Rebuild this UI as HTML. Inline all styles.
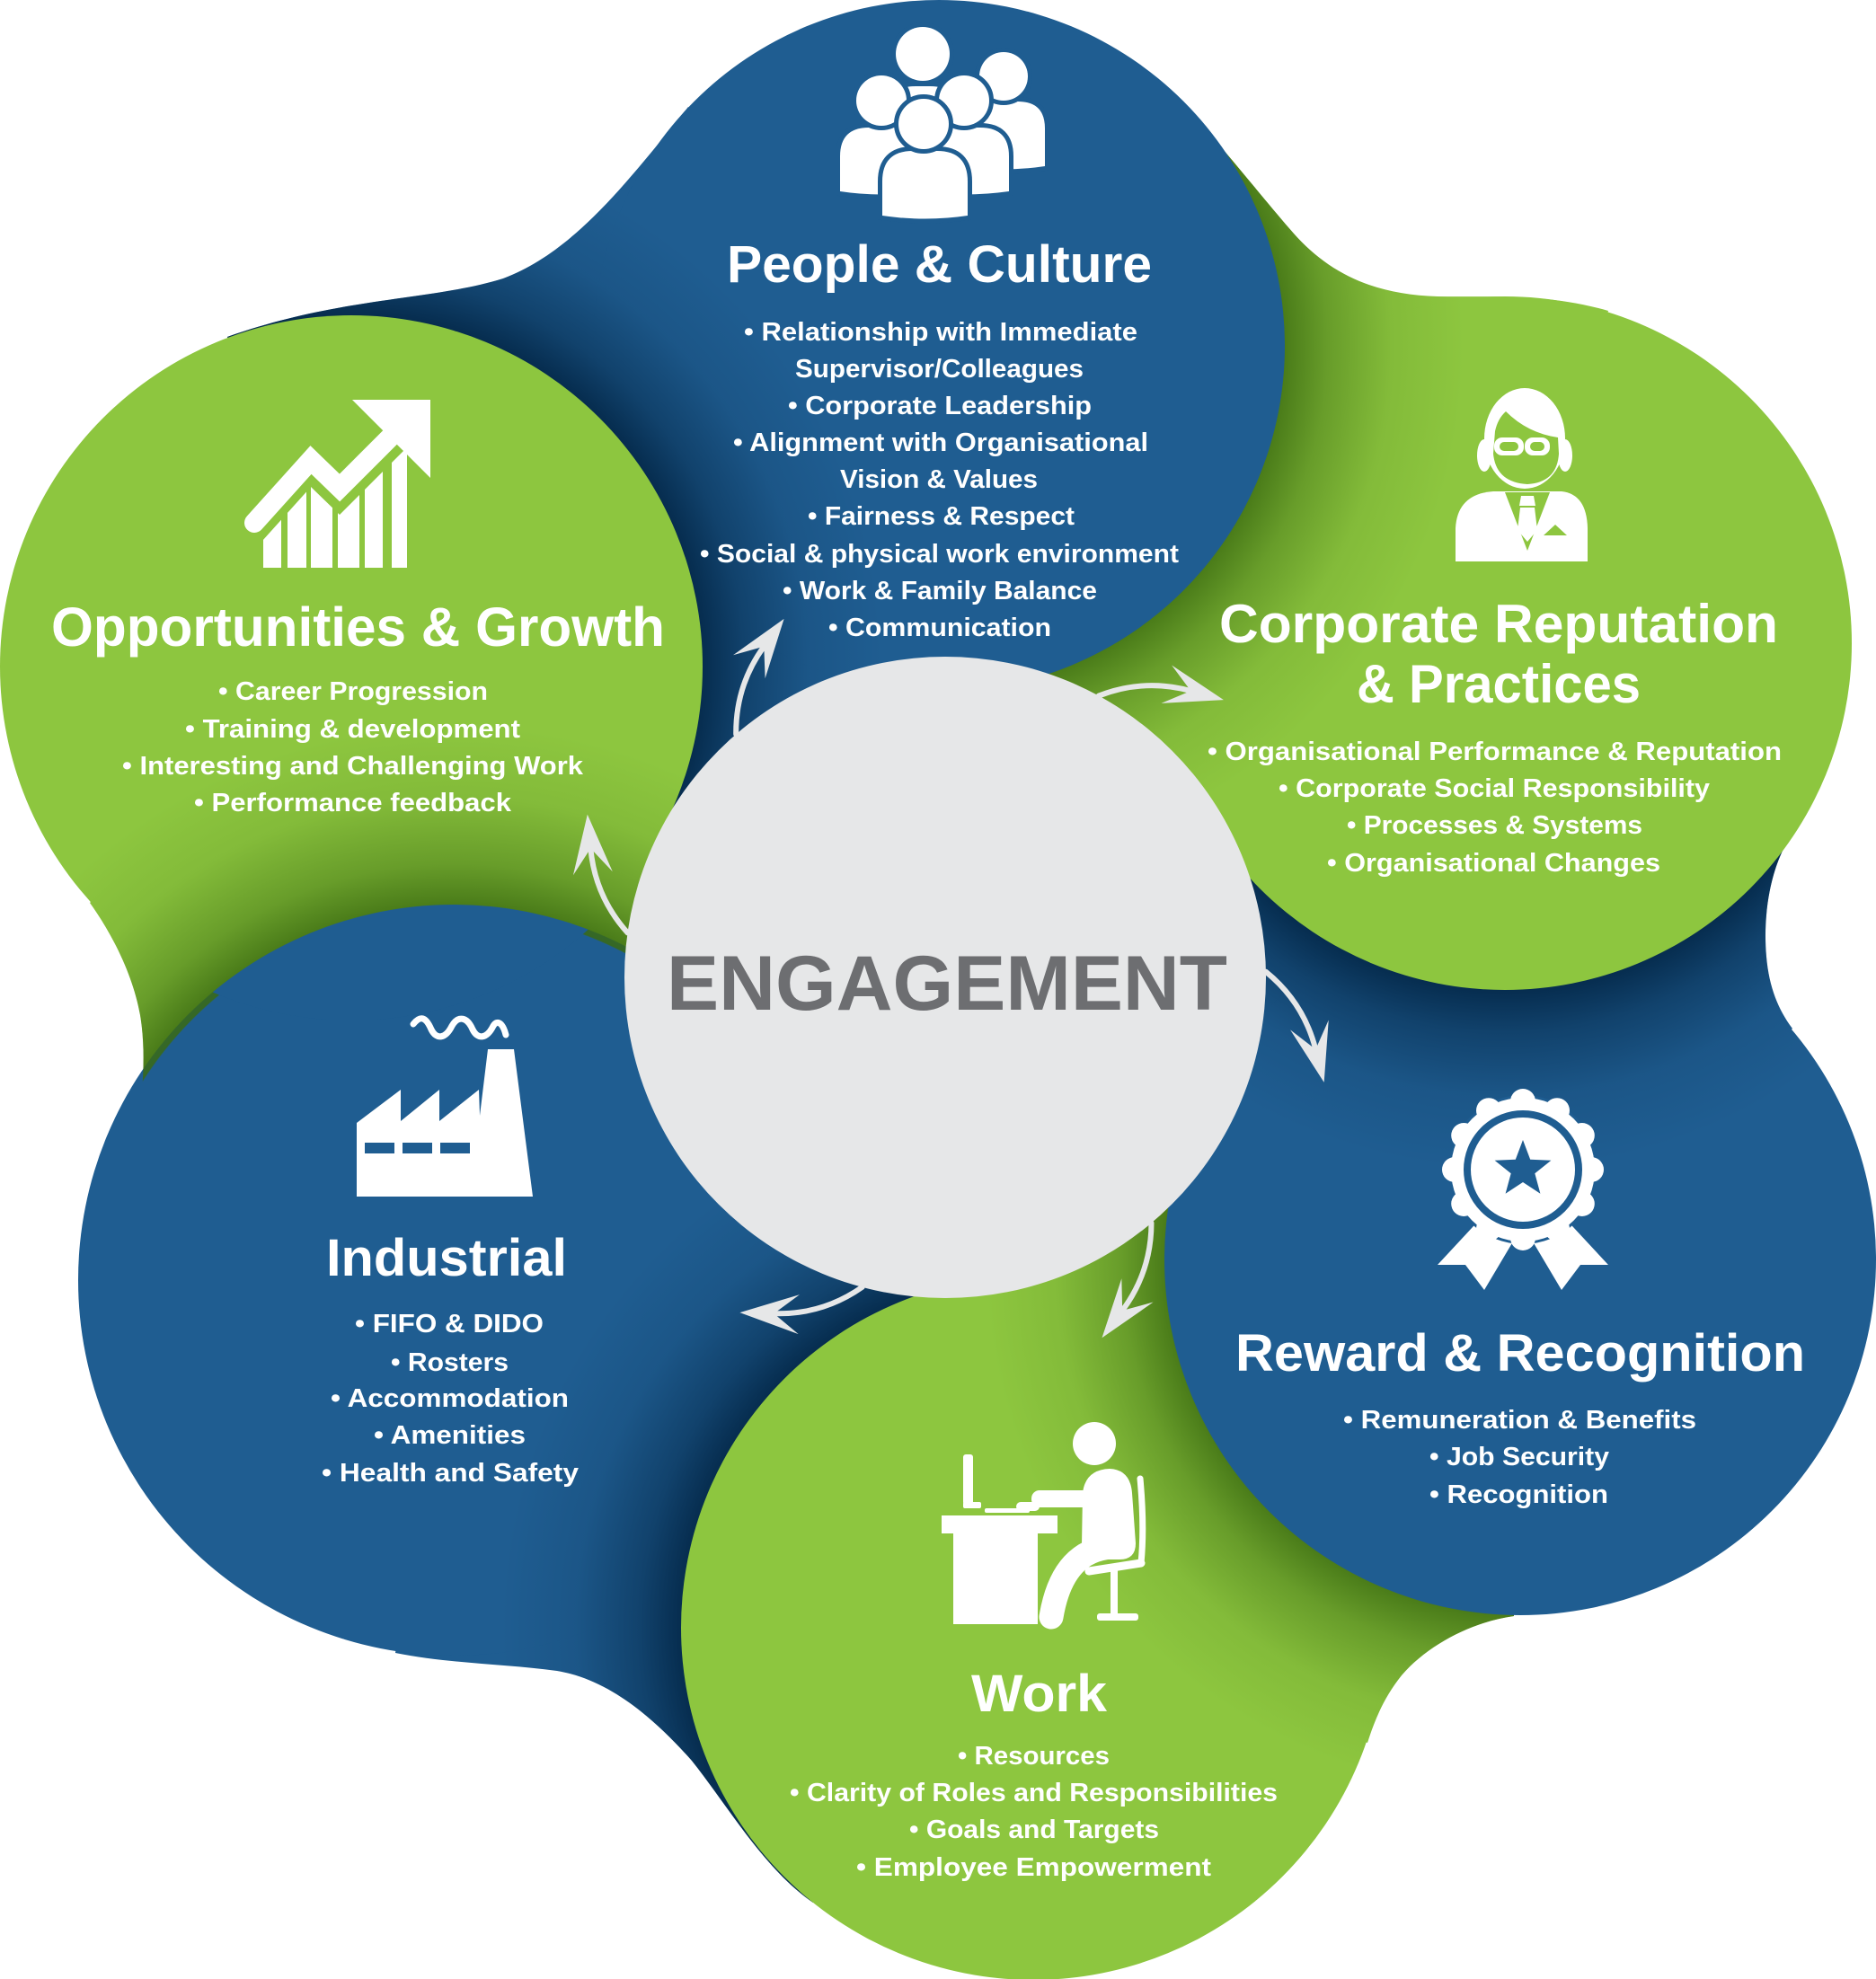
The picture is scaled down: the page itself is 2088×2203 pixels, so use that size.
<!DOCTYPE html>
<html>
<head>
<meta charset="utf-8">
<style>
html,body{margin:0;padding:0;background:#ffffff;}
svg{display:block;}
text{font-family:"Liberation Sans",Arial,sans-serif;font-weight:bold;fill:#ffffff;}
.t{font-size:58px;}
.b{font-size:29px;}
</style>
</head>
<body>
<svg width="2088" height="2203" viewBox="0 0 2088 2203" xmlns="http://www.w3.org/2000/svg">
<defs>
  <radialGradient id="shW" gradientUnits="userSpaceOnUse" cx="1150" cy="1812" r="592">
    <stop offset="0" stop-color="#00213f" stop-opacity="0"/>
    <stop offset="0.650" stop-color="#00213f" stop-opacity="0"/>
    <stop offset="0.652" stop-color="#00213f" stop-opacity="0.85"/>
    <stop offset="0.74" stop-color="#00213f" stop-opacity="0.45"/>
    <stop offset="0.86" stop-color="#00213f" stop-opacity="0.12"/>
    <stop offset="1" stop-color="#00213f" stop-opacity="0"/>
  </radialGradient>
  <radialGradient id="shR" gradientUnits="userSpaceOnUse" cx="1692" cy="1402" r="596">
    <stop offset="0" stop-color="#3a6a10" stop-opacity="0"/>
    <stop offset="0.652" stop-color="#3a6a10" stop-opacity="0"/>
    <stop offset="0.654" stop-color="#3a6a10" stop-opacity="0.85"/>
    <stop offset="0.745" stop-color="#3a6a10" stop-opacity="0.45"/>
    <stop offset="0.865" stop-color="#3a6a10" stop-opacity="0.12"/>
    <stop offset="1" stop-color="#3a6a10" stop-opacity="0"/>
  </radialGradient>
  <radialGradient id="shCr" gradientUnits="userSpaceOnUse" cx="1675" cy="716" r="586">
    <stop offset="0" stop-color="#00213f" stop-opacity="0"/>
    <stop offset="0.646" stop-color="#00213f" stop-opacity="0"/>
    <stop offset="0.648" stop-color="#00213f" stop-opacity="0.85"/>
    <stop offset="0.74" stop-color="#00213f" stop-opacity="0.45"/>
    <stop offset="0.86" stop-color="#00213f" stop-opacity="0.12"/>
    <stop offset="1" stop-color="#00213f" stop-opacity="0"/>
  </radialGradient>
  <radialGradient id="shP" gradientUnits="userSpaceOnUse" cx="1045" cy="385" r="585">
    <stop offset="0" stop-color="#3a6a10" stop-opacity="0"/>
    <stop offset="0.646" stop-color="#3a6a10" stop-opacity="0"/>
    <stop offset="0.648" stop-color="#3a6a10" stop-opacity="0.85"/>
    <stop offset="0.74" stop-color="#3a6a10" stop-opacity="0.45"/>
    <stop offset="0.86" stop-color="#3a6a10" stop-opacity="0.12"/>
    <stop offset="1" stop-color="#3a6a10" stop-opacity="0"/>
  </radialGradient>
  <radialGradient id="shO" gradientUnits="userSpaceOnUse" cx="391" cy="742" r="591">
    <stop offset="0" stop-color="#00213f" stop-opacity="0"/>
    <stop offset="0.650" stop-color="#00213f" stop-opacity="0"/>
    <stop offset="0.652" stop-color="#00213f" stop-opacity="0.85"/>
    <stop offset="0.74" stop-color="#00213f" stop-opacity="0.45"/>
    <stop offset="0.86" stop-color="#00213f" stop-opacity="0.12"/>
    <stop offset="1" stop-color="#00213f" stop-opacity="0"/>
  </radialGradient>
  <radialGradient id="shI" gradientUnits="userSpaceOnUse" cx="505" cy="1425" r="618">
    <stop offset="0" stop-color="#3a6a10" stop-opacity="0"/>
    <stop offset="0.664" stop-color="#3a6a10" stop-opacity="0"/>
    <stop offset="0.666" stop-color="#3a6a10" stop-opacity="0.85"/>
    <stop offset="0.75" stop-color="#3a6a10" stop-opacity="0.45"/>
    <stop offset="0.87" stop-color="#3a6a10" stop-opacity="0.12"/>
    <stop offset="1" stop-color="#3a6a10" stop-opacity="0"/>
  </radialGradient>

  <clipPath id="cI">
    <circle cx="505" cy="1425" r="418"/>
    <path d="M 440,1840 C 500,1852 560,1852 620,1860 C 680,1870 730,1915 770,1960 C 810,2010 850,2080 905,2118 L 1150,1812 L 1052,1088 L 505,1425 Z"/>
  </clipPath>
  <clipPath id="cW">
    <circle cx="1150" cy="1812" r="392"/>
    <path d="M 1685,1799 C 1640,1805 1590,1830 1560,1865 C 1540,1890 1530,1915 1522,1940 L 1150,1812 L 1052,1088 L 1692,1402 Z"/>
  </clipPath>
  <clipPath id="cR">
    <circle cx="1692" cy="1402" r="396"/>
    <path d="M 1985,945 C 1970,975 1962,1020 1966,1065 C 1969,1100 1980,1125 1995,1145 L 1692,1402 L 1052,1088 L 1675,716 Z"/>
  </clipPath>
  <clipPath id="cCr">
    <circle cx="1675" cy="716" r="386"/>
    <path d="M 1292,90 C 1345,143 1398,212 1440,260 C 1480,305 1530,328 1600,330 C 1660,331 1720,326 1790,346 L 1675,716 L 1052,1088 L 1045,385 Z"/>
  </clipPath>
  <clipPath id="cP">
    <circle cx="1045" cy="385" r="385"/>
    <path d="M 766,119 C 700,200 640,280 560,310 C 480,335 380,330 253,375 L 391,742 L 1052,1088 L 1045,385 Z"/>
  </clipPath>
  <clipPath id="cO">
    <circle cx="391" cy="742" r="391"/>
    <path d="M 100,1005 C 125,1040 148,1085 156,1130 C 161,1160 160,1190 158,1215 L 505,1425 L 1052,1088 L 391,742 Z"/>
  </clipPath>
  <clipPath id="cOc">
    <circle cx="391" cy="742" r="394"/>
  </clipPath>
  <clipPath id="barclip">
    <polygon points="255,640 255,630 283,612 346,542 378,573 472,479 472,640"/>
  </clipPath>

  <g id="arr">
    <path d="M 819.2,817.4 Q 818.6,763.2 850.3,719.6" fill="none" stroke="#e6e7e8" stroke-width="6" stroke-linecap="round"/>
    <path d="M 872.6,688.9 L 851.6,755.2 L 850.3,719.6 L 816.0,729.3 Z" fill="#e6e7e8"/>
  </g>
</defs>

<rect x="0" y="0" width="2088" height="2203" fill="#ffffff"/>

<!-- tails -->
<path d="M 766,119 C 700,200 640,280 560,310 C 480,335 380,330 253,375 L 391,742 L 1052,1088 L 1045,385 Z" fill="#1f5d91"/>
<path d="M 1292,90 C 1345,143 1398,212 1440,260 C 1480,305 1530,328 1600,330 C 1660,331 1720,326 1790,346 L 1675,716 L 1052,1088 L 1045,385 Z" fill="#8dc63f"/>
<path d="M 1985,945 C 1970,975 1962,1020 1966,1065 C 1969,1100 1980,1125 1995,1145 L 1692,1402 L 1052,1088 L 1675,716 Z" fill="#1f5d91"/>
<path d="M 1685,1799 C 1640,1805 1590,1830 1560,1865 C 1540,1890 1530,1915 1522,1940 L 1150,1812 L 1052,1088 L 1692,1402 Z" fill="#8dc63f"/>
<path d="M 440,1840 C 500,1852 560,1852 620,1860 C 680,1870 730,1915 770,1960 C 810,2010 850,2080 905,2118 L 1150,1812 L 1052,1088 L 505,1425 Z" fill="#1f5d91"/>
<path d="M 100,1005 C 125,1040 148,1085 156,1130 C 161,1160 160,1190 158,1215 L 505,1425 L 1052,1088 L 391,742 Z" fill="#8dc63f"/>

<!-- circles with shadows -->
<circle cx="505" cy="1425" r="418" fill="#1f5d91"/>
<rect x="0" y="0" width="2088" height="2203" fill="url(#shW)" clip-path="url(#cI)"/>
<circle cx="1150" cy="1812" r="392" fill="#8dc63f"/>
<rect x="0" y="0" width="2088" height="2203" fill="url(#shR)" clip-path="url(#cW)"/>
<circle cx="1692" cy="1402" r="396" fill="#1f5d91"/>
<rect x="0" y="0" width="2088" height="2203" fill="url(#shCr)" clip-path="url(#cR)"/>
<circle cx="1675" cy="716" r="386" fill="#8dc63f"/>
<rect x="0" y="0" width="2088" height="2203" fill="url(#shP)" clip-path="url(#cCr)"/>
<circle cx="1045" cy="385" r="385" fill="#1f5d91"/>
<rect x="0" y="0" width="2088" height="2203" fill="url(#shO)" clip-path="url(#cP)"/>
<circle cx="391" cy="742" r="391" fill="#8dc63f"/>
<rect x="0" y="0" width="2088" height="2203" fill="url(#shI)" clip-path="url(#cO)"/>
<circle cx="505" cy="1425" r="418" fill="#1f5d91" clip-path="url(#cOc)"/>

<!-- engagement -->
<circle cx="1052" cy="1088" r="357" fill="#e6e7e8"/>
<text x="742" y="1124" font-size="86" textLength="624" lengthAdjust="spacingAndGlyphs" style="fill:#6d6e71">ENGAGEMENT</text>

<!-- arrows -->
<use href="#arr"/>
<use href="#arr" transform="rotate(69.3 1052 1088)"/>
<use href="#arr" transform="rotate(129.7 1052 1088)"/>
<use href="#arr" transform="rotate(180.7 1052 1088)"/>
<use href="#arr" transform="rotate(235.7 1052 1088)"/>
<use href="#arr" transform="rotate(-41.3 1052 1088)"/>

<!-- People group icon -->
<g fill="#ffffff" stroke="#1f5d91" stroke-width="10" paint-order="stroke">
  <path d="M 985,200 L 985,130 Q 985,96 1019,96 L 1035,96 Q 1069,96 1069,130 L 1069,200 Z"/>
  <circle cx="1027" cy="60" r="30"/>
  <path d="M 1071,185 L 1071,143 Q 1071,113 1101,113 L 1133,113 Q 1163,113 1163,143 L 1163,185 Q 1117,192 1071,185 Z"/>
  <circle cx="1117" cy="85" r="27"/>
  <path d="M 935,213 L 935,174 Q 935,142 967,142 L 995,142 Q 1027,142 1027,174 L 1027,213 Q 981,220 935,213 Z"/>
  <circle cx="981" cy="112" r="28"/>
  <path d="M 1023,213 L 1023,174 Q 1023,142 1055,142 L 1091,142 Q 1123,142 1123,174 L 1123,213 Q 1073,220 1023,213 Z"/>
  <circle cx="1073" cy="112" r="28"/>
  <path d="M 982,240 L 982,202 Q 982,168 1016,168 L 1043,168 Q 1077,168 1077,202 L 1077,240 Q 1030,247 982,240 Z"/>
  <circle cx="1028" cy="138" r="28"/>
</g>

<!-- Growth chart icon -->
<g fill="#ffffff">
  <g clip-path="url(#barclip)">
    <rect x="293" y="440" width="20" height="192"/>
    <rect x="320" y="440" width="21" height="192"/>
    <rect x="346" y="440" width="24" height="192"/>
    <rect x="376" y="440" width="24" height="192"/>
    <rect x="406" y="440" width="20" height="192"/>
    <rect x="436" y="440" width="17" height="192"/>
  </g>
  <polyline points="283,582 346,512 378,543 445,476" fill="none" stroke="#ffffff" stroke-width="22" stroke-linecap="round" stroke-linejoin="miter"/>
  <polygon points="392,445 479,445 479,532"/>
</g>

<!-- Corporate person icon -->
<g>
  <ellipse cx="1697" cy="488" rx="45" ry="56" fill="#ffffff"/>
  <ellipse cx="1652" cy="507" rx="8" ry="18" fill="#ffffff"/>
  <ellipse cx="1742" cy="507" rx="8" ry="18" fill="#ffffff"/>
  <path d="M 1676,458 Q 1700,482 1734,487 L 1735,505 Q 1733,537 1700,539 Q 1665,537 1662,505 L 1664,480 Q 1667,466 1676,458 Z" fill="#8dc63f"/>
  <rect x="1663" y="487" width="33" height="20" rx="9" fill="#ffffff"/>
  <rect x="1697" y="487" width="28" height="20" rx="9" fill="#ffffff"/>
  <rect x="1669" y="492" width="21" height="10" rx="5" fill="#8dc63f"/>
  <rect x="1703" y="492" width="16" height="10" rx="5" fill="#8dc63f"/>
  <path d="M 1620,625 L 1620,588 Q 1622,550 1662,547 L 1738,547 Q 1766,550 1767,588 L 1767,625 Z" fill="#ffffff"/>
  <polygon points="1675,548 1725,548 1700,613" fill="#8dc63f"/>
  <polygon points="1693,552 1707,552 1709,563 1691,563" fill="#ffffff"/>
  <polygon points="1692,565 1708,565 1711,590 1700,603 1689,590" fill="#ffffff"/>
  <polygon points="1718,596 1744,596 1731,584" fill="#8dc63f"/>
</g>

<!-- Factory icon -->
<g>
  <path d="M 397,1332 L 397,1250 L 446,1213 L 446,1248 L 489,1213 L 489,1248 L 533,1213 L 534,1242 L 543,1168 L 572,1168 L 593,1332 Z" fill="#ffffff"/>
  <rect x="406" y="1272" width="33" height="12" fill="#1f5d91"/>
  <rect x="448" y="1272" width="33" height="12" fill="#1f5d91"/>
  <rect x="490" y="1272" width="33" height="12" fill="#1f5d91"/>
  <path d="M 460,1140 C 468,1130 474,1132 480,1146 C 486,1158 496,1156 503,1142 C 510,1130 520,1132 526,1146 C 532,1158 542,1156 549,1142 C 554,1134 560,1140 563,1152" fill="none" stroke="#ffffff" stroke-width="7" stroke-linecap="round"/>
</g>

<!-- Medal icon -->
<g>
  <polygon points="1652,1352 1690,1372 1652,1436 1631,1408 1600,1408" fill="#ffffff"/>
  <polygon points="1738,1352 1700,1372 1738,1436 1759,1408 1790,1408" fill="#ffffff"/>
  <g fill="#ffffff" stroke="#1f5d91" stroke-width="10" paint-order="stroke">
    <circle cx="1695" cy="1302" r="78"/>
  </g>
  <g fill="#ffffff">
    <circle cx="1771" cy="1302" r="14"/>
    <circle cx="1760.8" cy="1340" r="14"/>
    <circle cx="1733" cy="1367.8" r="14"/>
    <circle cx="1695" cy="1378" r="14"/>
    <circle cx="1657" cy="1367.8" r="14"/>
    <circle cx="1629.2" cy="1340" r="14"/>
    <circle cx="1619" cy="1302" r="14"/>
    <circle cx="1629.2" cy="1264" r="14"/>
    <circle cx="1657" cy="1236.2" r="14"/>
    <circle cx="1695" cy="1226" r="14"/>
    <circle cx="1733" cy="1236.2" r="14"/>
    <circle cx="1760.8" cy="1264" r="14"/>
    <circle cx="1695" cy="1302" r="80"/>
  </g>
  <circle cx="1695" cy="1302" r="62" fill="none" stroke="#1f5d91" stroke-width="8"/>
  <polygon points="1695,1269 1703.2,1290.7 1726.4,1291.8 1708.3,1306.3 1714.4,1328.7 1695,1316 1675.6,1328.7 1681.7,1306.3 1663.6,1291.8 1686.8,1290.7" fill="#1f5d91"/>
</g>

<!-- Work desk icon -->
<g fill="#ffffff">
  <circle cx="1218" cy="1607" r="24"/>
  <path d="M 1205,1662 Q 1208,1636 1235,1635 Q 1258,1636 1260,1662 L 1264,1718 Q 1264,1736 1246,1736 L 1214,1736 Q 1203,1734 1204,1720 Z"/>
  <rect x="1148" y="1659" width="72" height="19" rx="9"/>
  <rect x="1131" y="1672" width="26" height="10" rx="5"/>
  <path d="M 1248,1722 C 1210,1720 1180,1740 1170,1800" fill="none" stroke="#ffffff" stroke-width="27" stroke-linecap="round"/>
  <path d="M 1269,1646 Q 1274,1700 1270,1740" fill="none" stroke="#ffffff" stroke-width="7" stroke-linecap="round"/>
  <path d="M 1212,1749 L 1270,1740" fill="none" stroke="#ffffff" stroke-width="9" stroke-linecap="round"/>
  <rect x="1236" y="1748" width="8" height="50"/>
  <rect x="1221" y="1796" width="46" height="8" rx="3"/>
  <rect x="1048" y="1687" width="129" height="20"/>
  <rect x="1061" y="1706" width="94" height="102"/>
  <rect x="1072" y="1619" width="11" height="56" rx="3"/>
  <rect x="1072" y="1672" width="20" height="7" rx="2"/>
  <rect x="1096" y="1679" width="50" height="5" rx="2"/>
</g>

<!-- People & Culture text -->
<text class="t" x="809" y="314" textLength="473" lengthAdjust="spacingAndGlyphs">People &amp; Culture</text>
<text class="b" x="828" y="379" textLength="438" lengthAdjust="spacingAndGlyphs">• Relationship with Immediate</text>
<text class="b" x="885" y="420" textLength="321" lengthAdjust="spacingAndGlyphs">Supervisor/Colleagues</text>
<text class="b" x="877" y="461" textLength="338" lengthAdjust="spacingAndGlyphs">• Corporate Leadership</text>
<text class="b" x="816" y="502" textLength="462" lengthAdjust="spacingAndGlyphs">• Alignment with Organisational</text>
<text class="b" x="935" y="543" textLength="220" lengthAdjust="spacingAndGlyphs">Vision &amp; Values</text>
<text class="b" x="899" y="584" textLength="297" lengthAdjust="spacingAndGlyphs">• Fairness &amp; Respect</text>
<text class="b" x="779" y="626" textLength="533" lengthAdjust="spacingAndGlyphs">• Social &amp; physical work environment</text>
<text class="b" x="871" y="667" textLength="350" lengthAdjust="spacingAndGlyphs">• Work &amp; Family Balance</text>
<text class="b" x="922" y="708" textLength="248" lengthAdjust="spacingAndGlyphs">• Communication</text>

<!-- Opportunities & Growth -->
<text x="57" y="719" font-size="61" textLength="683" lengthAdjust="spacingAndGlyphs">Opportunities &amp; Growth</text>
<text class="b" x="243" y="779" textLength="300" lengthAdjust="spacingAndGlyphs">• Career Progression</text>
<text class="b" x="206" y="821" textLength="373" lengthAdjust="spacingAndGlyphs">• Training &amp; development</text>
<text class="b" x="136" y="862" textLength="513" lengthAdjust="spacingAndGlyphs">• Interesting and Challenging Work</text>
<text class="b" x="216" y="903" textLength="353" lengthAdjust="spacingAndGlyphs">• Performance feedback</text>

<!-- Corporate Reputation & Practices -->
<text x="1357" y="715" font-size="60" textLength="622" lengthAdjust="spacingAndGlyphs">Corporate Reputation</text>
<text x="1510" y="782" font-size="60" textLength="316" lengthAdjust="spacingAndGlyphs">&amp; Practices</text>
<text class="b" x="1344" y="846" textLength="639" lengthAdjust="spacingAndGlyphs">• Organisational Performance &amp; Reputation</text>
<text class="b" x="1423" y="887" textLength="480" lengthAdjust="spacingAndGlyphs">• Corporate Social Responsibility</text>
<text class="b" x="1499" y="928" textLength="329" lengthAdjust="spacingAndGlyphs">• Processes &amp; Systems</text>
<text class="b" x="1477" y="970" textLength="371" lengthAdjust="spacingAndGlyphs">• Organisational Changes</text>

<!-- Industrial -->
<text class="t" x="363" y="1420" textLength="268" lengthAdjust="spacingAndGlyphs">Industrial</text>
<text class="b" x="395" y="1483" textLength="210" lengthAdjust="spacingAndGlyphs">• FIFO &amp; DIDO</text>
<text class="b" x="435" y="1526" textLength="131" lengthAdjust="spacingAndGlyphs">• Rosters</text>
<text class="b" x="368" y="1566" textLength="265" lengthAdjust="spacingAndGlyphs">• Accommodation</text>
<text class="b" x="416" y="1607" textLength="169" lengthAdjust="spacingAndGlyphs">• Amenities</text>
<text class="b" x="358" y="1649" textLength="286" lengthAdjust="spacingAndGlyphs">• Health and Safety</text>

<!-- Reward & Recognition -->
<text class="t" x="1375" y="1526" textLength="634" lengthAdjust="spacingAndGlyphs">Reward &amp; Recognition</text>
<text class="b" x="1495" y="1590" textLength="393" lengthAdjust="spacingAndGlyphs">• Remuneration &amp; Benefits</text>
<text class="b" x="1591" y="1631" textLength="200" lengthAdjust="spacingAndGlyphs">• Job Security</text>
<text class="b" x="1591" y="1673" textLength="199" lengthAdjust="spacingAndGlyphs">• Recognition</text>

<!-- Work -->
<text class="t" x="1081" y="1905" textLength="151" lengthAdjust="spacingAndGlyphs">Work</text>
<text class="b" x="1066" y="1964" textLength="169" lengthAdjust="spacingAndGlyphs">• Resources</text>
<text class="b" x="879" y="2005" textLength="543" lengthAdjust="spacingAndGlyphs">• Clarity of Roles and Responsibilities</text>
<text class="b" x="1012" y="2046" textLength="278" lengthAdjust="spacingAndGlyphs">• Goals and Targets</text>
<text class="b" x="953" y="2088" textLength="395" lengthAdjust="spacingAndGlyphs">• Employee Empowerment</text>
</svg>
</body>
</html>
